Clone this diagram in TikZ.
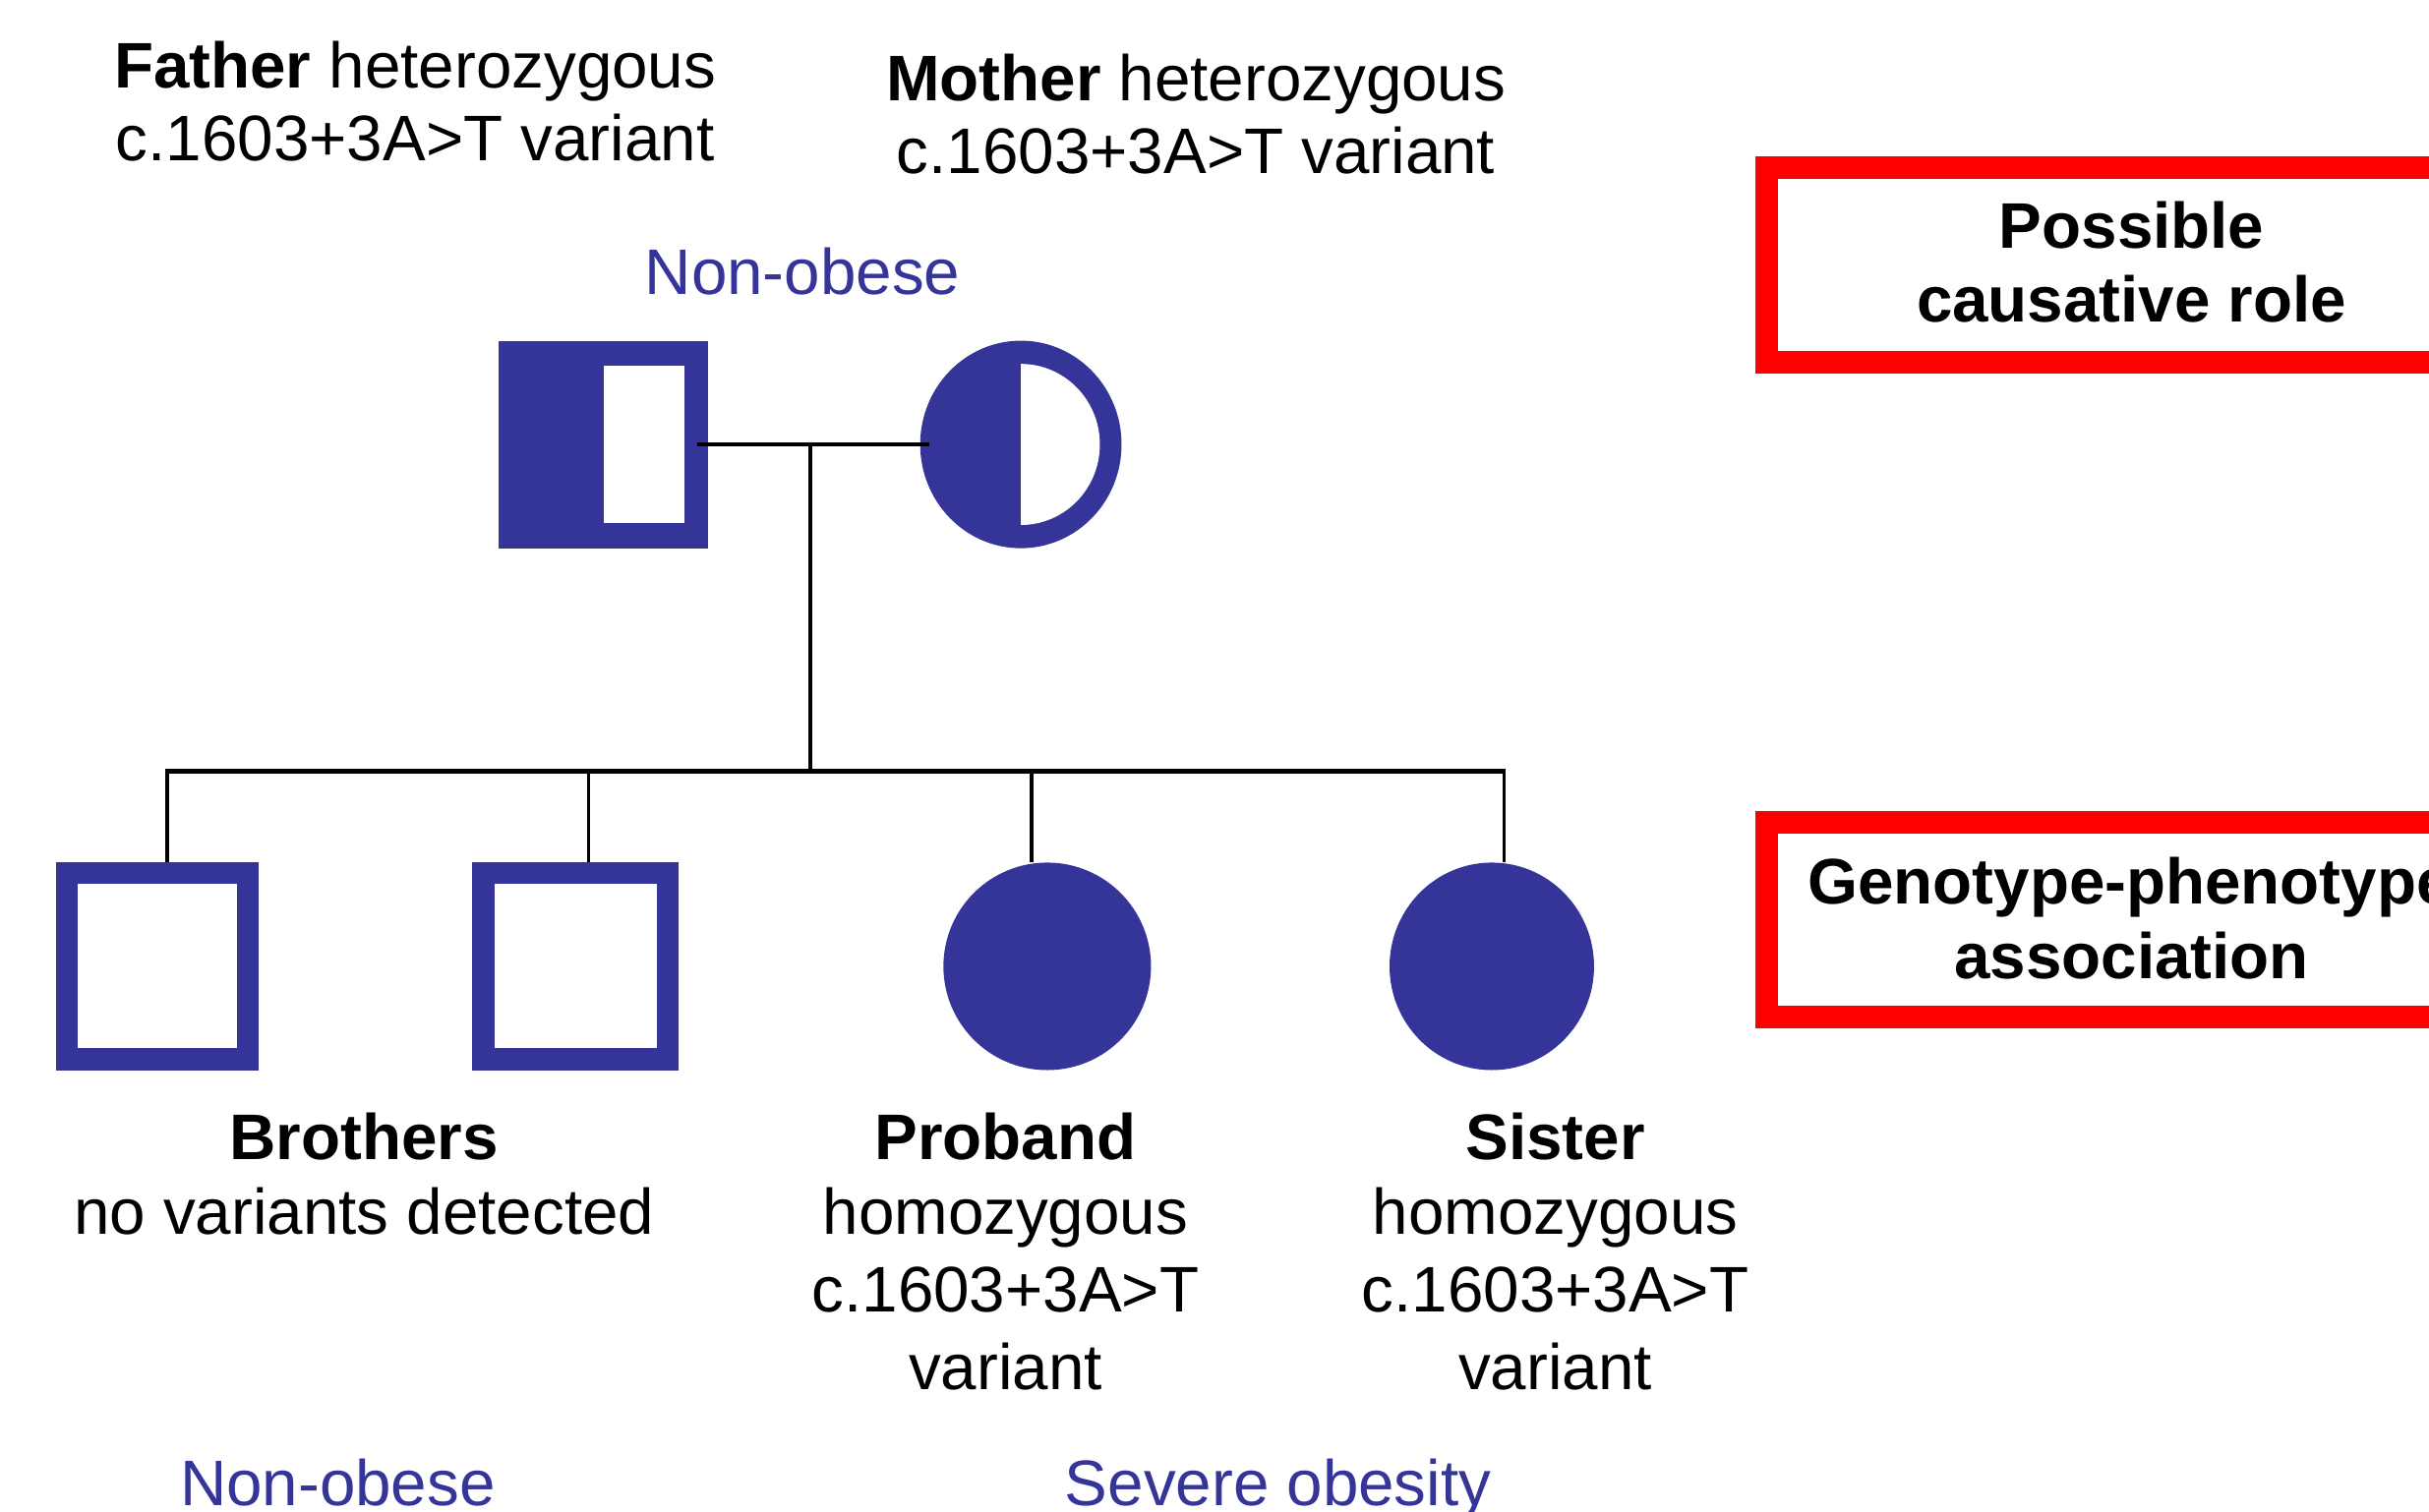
\documentclass[tikz,border=0pt]{standalone}
\usepackage{fontspec}
\setmainfont{Liberation Sans}
\usetikzlibrary{shapes.geometric}
\definecolor{pblue}{RGB}{53,53,153}
\definecolor{pred}{RGB}{255,0,0}
\begin{document}
\begin{tikzpicture}[x=1pt,y=-1pt,
  txt/.style={font=\fontsize{41.6}{49}\selectfont, inner sep=0, anchor=base},
  btxt/.style={font=\fontsize{41.6}{49}\selectfont\bfseries, inner sep=0, anchor=base},
  phen/.style={txt, text=pblue},
  conn/.style={line width=2.4pt, black},
  sibline/.style={line width=2.8pt, black},
  sqbox/.style={draw=pblue, line width=14pt, inner sep=0, minimum height=120pt},
  filledf/.style={ellipse, fill=pblue, inner sep=0},
  redbox/.style={draw=pred, line width=14.5pt, inner sep=0, minimum width=471.5pt, minimum height=125.5pt}
]
\useasboundingbox (0,0) rectangle (1568,976);
\clip (0,0) rectangle (1568,976);

% parents
\node[fill=pblue, minimum width=135pt, minimum height=134pt, inner sep=0] (father) at (389.5,287) {};
\fill[white] (390,236) rectangle (442,338);
\node[filledf, minimum width=130pt, minimum height=134pt] (mother) at (659,287) {};
\begin{scope}
  \clip (659,200) rectangle (740,380);
  \fill[white] (mother.center) ellipse [x radius=51, y radius=52];
\end{scope}

% children
\node[sqbox, minimum width=117pt] (b1) at (101.5,624) {};
\node[sqbox, minimum width=119pt] (b2) at (371.5,624) {};
\node[filledf, minimum width=134pt, minimum height=134pt] (pro) at (676,624) {};
\node[filledf, minimum width=132pt, minimum height=134pt] (sis) at (963,624) {};

% connectors
\coordinate (mate) at (523,287);
\coordinate (sibc) at (523,498);
\coordinate (s1) at (108,498);
\coordinate (s2) at (380,498);
\coordinate (s3) at (666,498);
\coordinate (s4) at (971,498);
\draw[conn] ([xshift=-7pt]father.east) -- ([xshift=6pt]mother.west);
\draw[conn] (mate) -- (sibc);
\draw[sibline] ([xshift=-1.2pt]s1) -- ([xshift=1.2pt]s4);
\draw[conn] (s1) -- (s1 |- b1.north);
\draw[conn] (s2) -- (s2 |- b2.north);
\draw[conn] (s3) -- (s3 |- pro.north);
\draw[conn] (s4) -- (s4 |- sis.north);

% top texts
\node[txt] (fa1) at (268,57) {\textbf{Father} heterozygous};
\node[txt] (fa2) at (268,104) {c.1603+3A>T variant};
\node[txt] (mo1) at (772,65) {\textbf{Mother} heterozygous};
\node[txt] (mo2) at (772,112) {c.1603+3A>T variant};
\node[phen] (np) at (518,190) {Non-obese};

% children texts
\node[btxt] (br1) at (235,749) {Brothers};
\node[txt] (br2) at (235,797) {no variants detected};
\node[btxt] (pr1) at (649,749) {Proband};
\node[txt] (pr2) at (649,797) {homozygous};
\node[txt] (pr3) at (649,847) {c.1603+3A>T};
\node[txt] (pr4) at (649,897) {variant};
\node[btxt] (si1) at (1004,749) {Sister};
\node[txt] (si2) at (1004,797) {homozygous};
\node[txt] (si3) at (1004,847) {c.1603+3A>T};
\node[txt] (si4) at (1004,897) {variant};
\node[phen] (nb) at (218,972) {Non-obese};
\node[phen] (so) at (825,972) {Severe obesity};

% red boxes
\node[redbox] (box1) at (1376,171) {};
\node[btxt] (bx1a) at (1376,160) {Possible};
\node[btxt] (bx1b) at (1376,208) {causative role};
\node[redbox] (box2) at (1376,594) {};
\node[btxt] (bx2a) at (1375,584) {Genotype-phenotype};
\node[btxt] (bx2b) at (1376,632) {association};
\end{tikzpicture}
\end{document}
